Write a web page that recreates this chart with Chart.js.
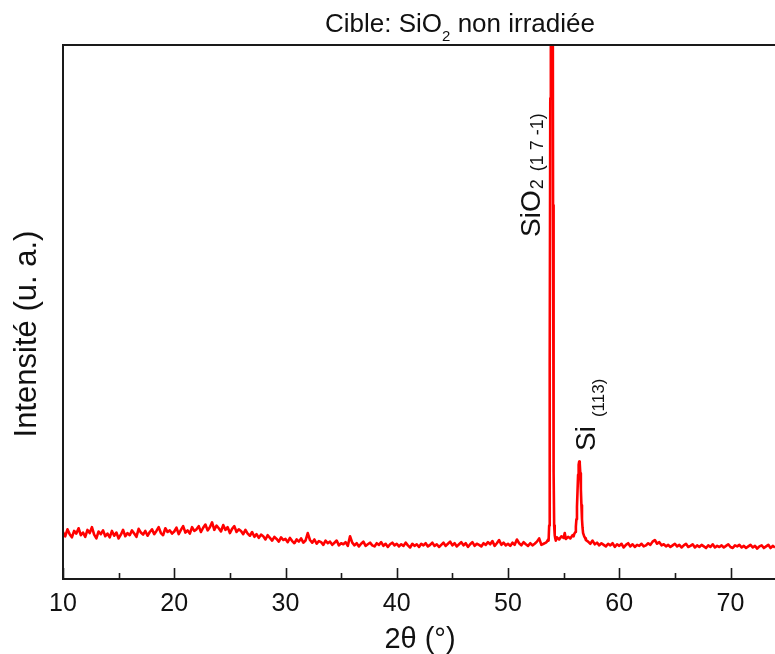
<!DOCTYPE html>
<html>
<head>
<meta charset="utf-8">
<script src="https://cdn.jsdelivr.net/npm/chart.js@4.4.1/dist/chart.umd.min.js"></script>
<style>
  html, body { margin: 0; padding: 0; background: #fff; }
  canvas { display: block; }
</style>
</head>
<body>
<canvas id="xrd" width="775" height="654"></canvas>
<script>
// XRD scan of the non-irradiated SiO2 target (2theta in degrees, counts in a.u.)
const twoTheta = [
  10.0, 10.2, 10.4, 10.6, 10.8, 11.0, 11.2, 11.4, 11.6, 11.8,
  12.0, 12.2, 12.4, 12.6, 12.8, 13.0, 13.2, 13.4, 13.6, 13.8,
  14.0, 14.2, 14.4, 14.6, 14.8, 15.0, 15.2, 15.4, 15.6, 15.8,
  16.0, 16.2, 16.4, 16.6, 16.8, 17.0, 17.2, 17.4, 17.6, 17.8,
  18.0, 18.2, 18.4, 18.6, 18.8, 19.0, 19.2, 19.4, 19.6, 19.8,
  20.0, 20.2, 20.4, 20.6, 20.8, 21.0, 21.2, 21.4, 21.6, 21.8,
  22.0, 22.2, 22.4, 22.6, 22.8, 23.0, 23.2, 23.4, 23.6, 23.8,
  24.0, 24.2, 24.4, 24.6, 24.8, 25.0, 25.2, 25.4, 25.6, 25.8,
  26.0, 26.2, 26.4, 26.6, 26.8, 27.0, 27.2, 27.4, 27.6, 27.8,
  28.0, 28.2, 28.4, 28.6, 28.8, 29.0, 29.2, 29.4, 29.6, 29.8,
  30.0, 30.2, 30.4, 30.6, 30.8, 31.0, 31.2, 31.4, 31.6, 31.8,
  32.0, 32.2, 32.4, 32.6, 32.8, 33.0, 33.2, 33.4, 33.6, 33.8,
  34.0, 34.2, 34.4, 34.6, 34.8, 35.0, 35.2, 35.4, 35.6, 35.8,
  36.0, 36.2, 36.4, 36.6, 36.8, 37.0, 37.2, 37.4, 37.6, 37.8,
  38.0, 38.2, 38.4, 38.6, 38.8, 39.0, 39.2, 39.4, 39.6, 39.8,
  40.0, 40.2, 40.4, 40.6, 40.8, 41.0, 41.2, 41.4, 41.6, 41.8,
  42.0, 42.2, 42.4, 42.6, 42.8, 43.0, 43.2, 43.4, 43.6, 43.8,
  44.0, 44.2, 44.4, 44.6, 44.8, 45.0, 45.2, 45.4, 45.6, 45.8,
  46.0, 46.2, 46.4, 46.6, 46.8, 47.0, 47.2, 47.4, 47.6, 47.8,
  48.0, 48.2, 48.4, 48.6, 48.8, 49.0, 49.2, 49.4, 49.6, 49.8,
  50.0, 50.2, 50.4, 50.6, 50.8, 51.0, 51.2, 51.4, 51.6, 51.8,
  52.0, 52.2, 52.4, 52.6, 52.8, 53.0, 53.2, 53.4,
  // SiO2 (1 7 -1) and Si (113) reflections, finer sampling
  53.5, 53.6, 53.65, 53.7, 53.75, 53.8, 53.85, 53.9, 53.95, 54.0,
  54.05, 54.1, 54.15, 54.2, 54.25, 54.3, 54.4, 54.6, 54.8, 55.0,
  55.1, 55.2, 55.4, 55.6, 55.8, 55.9, 55.95, 56.05, 56.1, 56.15,
  56.2, 56.25, 56.3, 56.35, 56.4, 56.45, 56.5, 56.55, 56.6, 56.65,
  56.7, 56.75, 56.85, 56.95, 57.0,
  57.2, 57.4, 57.6, 57.8, 58.0, 58.2, 58.4, 58.6, 58.8, 59.0,
  59.2, 59.4, 59.6, 59.8, 60.0, 60.2, 60.4, 60.6, 60.8, 61.0,
  61.2, 61.4, 61.6, 61.8, 62.0, 62.2, 62.4, 62.6, 62.8, 63.0,
  63.2, 63.4, 63.6, 63.8, 64.0, 64.2, 64.4, 64.6, 64.8, 65.0,
  65.2, 65.4, 65.6, 65.8, 66.0, 66.2, 66.4, 66.6, 66.8, 67.0,
  67.2, 67.4, 67.6, 67.8, 68.0, 68.2, 68.4, 68.6, 68.8, 69.0,
  69.2, 69.4, 69.6, 69.8, 70.0, 70.2, 70.4, 70.6, 70.8, 71.0,
  71.2, 71.4, 71.6, 71.8, 72.0, 72.2, 72.4, 72.6, 72.8, 73.0,
  73.2, 73.4, 73.6, 73.8, 74.0
];

const intensity = [
  88, 80, 93, 84, 78, 90, 85, 95, 82, 87,
  79, 92, 86, 97, 83, 76, 89, 84, 91, 80,
  85, 78, 90, 81, 87, 76, 83, 92, 80, 86,
  82, 91, 85, 79, 94, 87, 83, 90, 81, 88,
  93, 84, 90, 97, 86, 82, 95, 88, 91, 85,
  89, 96, 84, 92, 99, 87, 91, 85, 97, 90,
  93, 99, 88, 96, 102, 91, 97, 106, 92, 100,
  95, 89, 101, 92, 97, 86, 94, 99, 88, 93,
  90, 84, 92, 85, 81, 88, 79, 84, 77, 83,
  80, 74, 82, 77, 72, 79, 75, 70, 78, 73,
  75, 69, 77, 71, 67, 74, 70, 76, 68, 72,
  86, 73, 68, 74, 66, 71, 69, 64, 72, 67,
  70, 64, 68, 72, 63, 67, 65, 69, 62, 80,
  68, 63, 67, 61, 66, 70, 62, 65, 68, 63,
  61, 67, 64, 69, 62, 66, 60, 65, 68, 63,
  66, 61, 65, 62, 68, 63, 59, 66, 62, 65,
  60, 66, 63, 67, 61, 64, 68, 62, 65, 60,
  64, 68, 62, 66, 70, 63, 67, 61, 65, 69,
  63, 67, 60, 65, 69, 62, 66, 64, 61, 67,
  64, 69, 65, 71, 62, 67, 73, 64, 68, 63,
  66, 62, 68, 64, 74, 67, 63, 69, 65, 62,
  67, 63, 66, 70, 76, 64, 66, 68,
  70, 74, 72, 100, 400, 900, 1400, 1800, 1850, 1500,
  700, 200, 100, 82, 76, 72, 78, 74, 80, 77,
  86, 75, 79, 76, 82, 80, 84, 88, 98, 112,
  135, 165, 195, 214, 220, 216, 198, 168, 138, 112,
  96, 86, 80, 76, 73,
  70, 66, 72, 65, 68, 63, 67, 64, 61, 66,
  63, 67, 60, 65, 62, 66, 59, 64, 67, 61,
  65, 60, 64, 62, 66, 61, 63, 67, 64, 70,
  73, 66, 69, 63, 65, 61, 64, 60, 63, 66,
  61, 64, 59, 63, 66, 60, 62, 65, 59, 63,
  60, 64, 61, 58, 63, 60, 65, 59, 62, 60,
  63, 59, 62, 65, 60, 58, 63, 61, 64, 59,
  62, 58, 61, 64, 59, 62, 57, 61, 63, 58,
  61, 64, 58, 62, 59
];

const xRange = [10, 74];
const yRange = [0, 1000];
const majorTicks = [10, 20, 30, 40, 50, 60, 70];
const minorTicks = [15, 25, 35, 45, 55, 65];

const FONT = "'Liberation Sans', Arial, Helvetica, sans-serif";
const INK = '#111111';

// draws a sequence of text runs (for sub/superscripts) along the current x axis
function drawRuns(ctx, runs, x0) {
  let x = x0;
  runs.forEach(r => {
    x += r.gap || 0;
    ctx.font = r.size + 'px ' + FONT;
    ctx.fillText(r.text, x, r.dy || 0);
    x += ctx.measureText(r.text).width;
  });
  return x - x0;
}

function runsWidth(ctx, runs) {
  let w = 0;
  runs.forEach(r => {
    ctx.font = r.size + 'px ' + FONT;
    w += (r.gap || 0) + ctx.measureText(r.text).width;
  });
  return w;
}

// box around the plot plus inward ticks on the 2theta axis
const framePlugin = {
  id: 'frame',
  afterDatasetsDraw(chart) {
    const { ctx, chartArea: a, scales: { x } } = chart;
    ctx.save();
    ctx.strokeStyle = '#1a1a1a';
    ctx.lineWidth = 2;
    ctx.beginPath();
    ctx.moveTo(a.right + 2, a.top);
    ctx.lineTo(a.left, a.top);
    ctx.lineTo(a.left, a.bottom);
    ctx.lineTo(a.right + 2, a.bottom);
    ctx.stroke();

    ctx.lineWidth = 1.6;
    const tick = (v, len) => {
      const px = Math.round(x.getPixelForValue(v)) + 0.5;
      ctx.beginPath();
      ctx.moveTo(px, a.bottom);
      ctx.lineTo(px, a.bottom - len);
      ctx.stroke();
    };
    majorTicks.forEach(v => tick(v, 11));
    minorTicks.forEach(v => tick(v, 6));
    ctx.restore();
  }
};

// titles and peak labels
const labelPlugin = {
  id: 'labels',
  afterDraw(chart) {
    const { ctx } = chart;
    ctx.save();
    ctx.fillStyle = INK;
    ctx.textBaseline = 'alphabetic';
    ctx.textAlign = 'left';

    // chart title
    const title = [
      { text: 'Cible: SiO', size: 26 },
      { text: '2', size: 15, dy: 9 },
      { text: ' non irradiée', size: 26 }
    ];
    const tw = runsWidth(ctx, title);
    ctx.save();
    ctx.translate(460 - tw / 2, 32);
    drawRuns(ctx, title, 0);
    ctx.restore();

    // x axis title
    ctx.font = '29px ' + FONT;
    ctx.textAlign = 'center';
    ctx.fillText('2θ (°)', 420, 648);

    // y axis title
    ctx.save();
    ctx.translate(36, 334);
    ctx.rotate(-Math.PI / 2);
    ctx.font = '31px ' + FONT;
    ctx.fillText('Intensité (u. a.)', 0, 0);
    ctx.restore();

    ctx.textAlign = 'left';
    // SiO2 (1 7 -1) peak label
    ctx.save();
    ctx.translate(540, 237);
    ctx.rotate(-Math.PI / 2);
    drawRuns(ctx, [
      { text: 'SiO', size: 28 },
      { text: '2', size: 18, dy: 3, gap: 1 },
      { text: '(1 7 -1)', size: 18, dy: 3, gap: 8 }
    ], 0);
    ctx.restore();

    // Si (113) peak label
    ctx.save();
    ctx.translate(595, 451);
    ctx.rotate(-Math.PI / 2);
    drawRuns(ctx, [
      { text: 'Si', size: 28 },
      { text: '(113)', size: 17, dy: 9, gap: 9 }
    ], 0);
    ctx.restore();

    ctx.restore();
  }
};

const points = twoTheta.map((t, i) => ({ x: t, y: intensity[i] }));

new Chart(document.getElementById('xrd'), {
  type: 'line',
  data: {
    datasets: [{
      data: points,
      borderColor: '#ff0000',
      borderWidth: 2.6,
      borderJoinStyle: 'round',
      pointRadius: 0,
      tension: 0,
      fill: false
    }]
  },
  options: {
    responsive: false,
    animation: false,
    devicePixelRatio: 1,
    layout: { padding: { left: 63, top: 45, right: 0, bottom: 0 } },
    plugins: {
      legend: { display: false },
      tooltip: { enabled: false }
    },
    scales: {
      x: {
        type: 'linear',
        min: xRange[0],
        max: xRange[1],
        grid: { display: false, drawTicks: false },
        border: { display: false },
        ticks: {
          stepSize: 10,
          includeBounds: false,
          autoSkip: false,
          maxRotation: 0,
          padding: 10,
          color: INK,
          font: { family: FONT, size: 25 }
        },
        afterFit: s => { s.height = 75; }
      },
      y: {
        display: false,
        min: yRange[0],
        max: yRange[1]
      }
    }
  },
  plugins: [framePlugin, labelPlugin]
});
</script>
</body>
</html>
